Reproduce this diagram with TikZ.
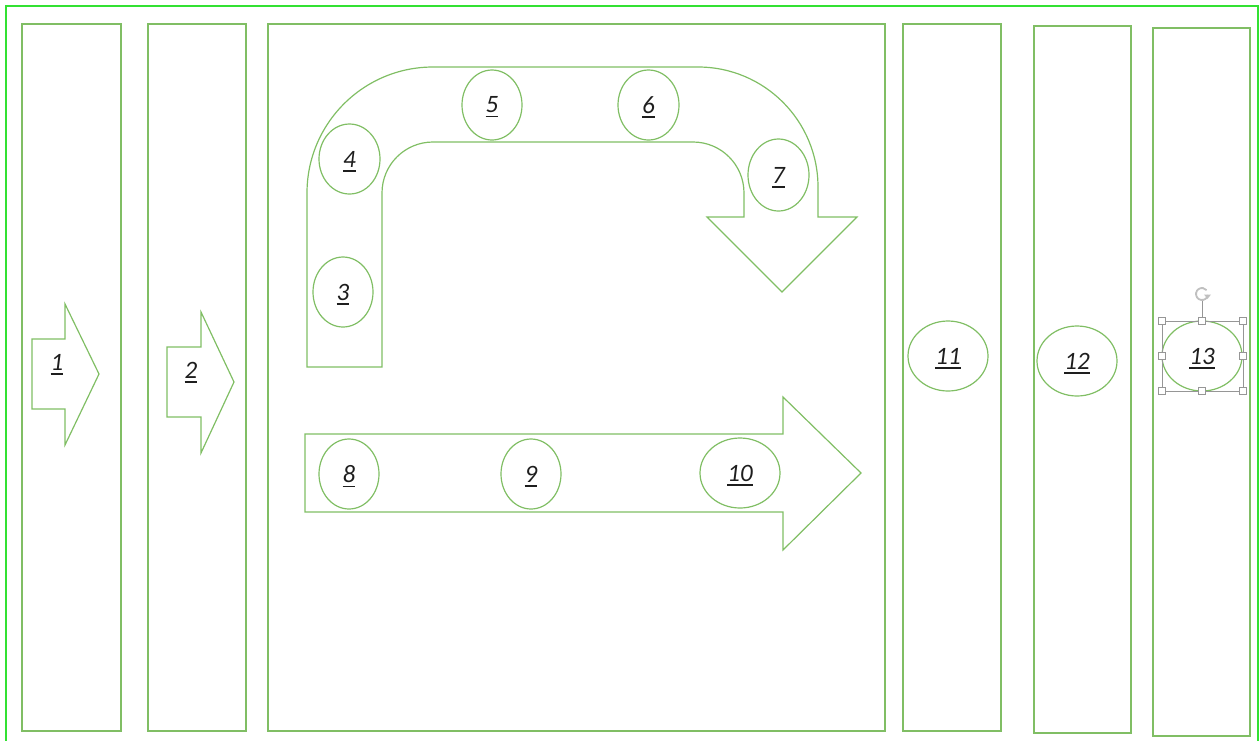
\documentclass[tikz,border=0pt]{standalone}
\usepackage{fontspec}
\setmainfont{Carlito}
\usetikzlibrary{shapes.geometric}
\definecolor{lgreen}{RGB}{128,190,100}
\definecolor{frame}{RGB}{50,225,50}
\definecolor{hgray}{RGB}{150,150,150}
\definecolor{txt}{RGB}{30,30,30}
\newsavebox\ulbox
\newcommand\ulnum[1]{{\sbox\ulbox{#1}\rlap{\smash{\rule[-4.5pt]{\wd\ulbox}{1.4pt}}}\usebox\ulbox}}
\tikzset{
  col/.style={draw=lgreen, line width=1.4pt},
  shp/.style={draw=lgreen, line width=1.2pt, line join=miter},
  ell/.style={ellipse, draw=lgreen, line width=1.2pt, minimum width=60pt, minimum height=70pt, inner sep=0pt, text=txt,
     font=\fontsize{25}{28}\selectfont\itshape},
  lbl/.style={inner sep=0pt, text=txt, font=\fontsize{25}{28}\selectfont\itshape},
  hdl/.style={draw=hgray, fill=white, line width=0.8pt, minimum size=7pt, inner sep=0pt},
}
\begin{document}
\begin{tikzpicture}[x=1pt,y=-1pt]
\useasboundingbox (0,0) rectangle (1259,740);
% outer frame
\draw[frame, line width=1.3pt] (6,6) rectangle (1258,760);
% columns
\draw[col] (22,24) rectangle (121,731);
\draw[col] (148,24) rectangle (246,731);
\draw[col] (268,24) rectangle (885,731);
\draw[col] (903,24) rectangle (1001,731);
\draw[col] (1034,26) rectangle (1131,733);
\draw[col] (1153,28) rectangle (1250,736);
% arrow 1
\draw[shp] (32,339) -- (65,339) -- (65,304) -- (99,374) -- (65,445) -- (65,409) -- (32,409) -- cycle;
\node[lbl] (l1) at (57,362) {\ulnum{1}};
% arrow 2
\draw[shp] (167,347) -- (201,347) -- (201,312) -- (234,382) -- (201,453) -- (201,417) -- (167,417) -- cycle;
\node[lbl] (l2) at (191,370) {\ulnum{2}};
% U-turn arrow
\draw[shp] (307,367) -- (307,193) .. controls (307,123.4) and (363.4,67) .. (433,67)
  -- (698,67) .. controls (764.3,67) and (818,120.7) .. (818,187)
  -- (818,217) -- (857,217) -- (782,292) -- (707,217) -- (744,217)
  -- (744,193) .. controls (744,164.8) and (721.2,142) .. (693,142)
  -- (433,142) .. controls (404.8,142) and (382,164.8) .. (382,193)
  -- (382,367) -- cycle;
% straight arrow
\draw[shp] (305,434) -- (783,434) -- (783,397) -- (861,473) -- (783,550) -- (783,512) -- (305,512) -- cycle;
% ellipses
\node[ell] (e3) at (343,292) {\ulnum{3}};
\node[ell, minimum width=61pt] (e4) at (349.5,159) {\ulnum{4}};
\node[ell] (e5) at (492,105) {\ulnum{5}};
\node[ell, minimum width=61pt] (e6) at (648.5,105) {\ulnum{6}};
\node[ell, minimum width=61pt, minimum height=72pt] (e7) at (778.5,175) {\ulnum{7}};
\node[ell] (e8) at (349,474) {\ulnum{8}};
\node[ell] (e9) at (531,474) {\ulnum{9}};
\node[ell, minimum width=80pt] (e10) at (740,473) {\ulnum{10}};
\node[ell, minimum width=80pt] (e11) at (948,356) {\ulnum{11}};
\node[ell, minimum width=80pt] (e12) at (1077,361) {\ulnum{12}};
\node[ell, minimum width=80pt] (e13) at (1202,356) {\ulnum{13}};
% selection handles
\draw[hgray, line width=0.8pt] (1162,321) rectangle (1243,391);
\draw[hgray, line width=0.8pt] (1202,301) -- (1202,321);
\coordinate (rot) at (1202,294);
\draw[hgray!60, line width=1.8pt, shift={(rot)}] (-10:6pt) arc[start angle=-10, end angle=-320, radius=6pt];
\fill[hgray!60, shift={(rot)}] (2pt,-0.5pt) -- (9pt,-0.5pt) -- (5.5pt,-5pt) -- cycle;
\node[hdl] (h1) at (1162,321) {};
\node[hdl] (h2) at (1202,321) {};
\node[hdl] (h3) at (1243,321) {};
\node[hdl] (h4) at (1162,356) {};
\node[hdl] (h5) at (1243,356) {};
\node[hdl] (h6) at (1162,391) {};
\node[hdl] (h7) at (1202,391) {};
\node[hdl] (h8) at (1243,391) {};
\end{tikzpicture}
\end{document}
